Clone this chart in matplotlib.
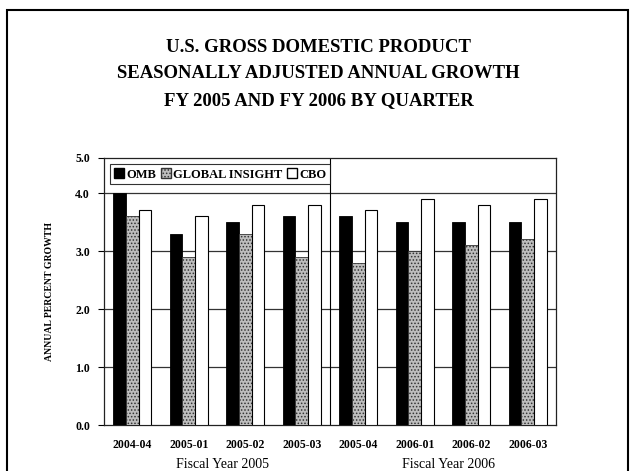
import numpy as np
import matplotlib
matplotlib.use("Agg")
import matplotlib.pyplot as plt
from matplotlib.patches import Rectangle, Patch

categories = ["2004-04", "2005-01", "2005-02", "2005-03",
              "2005-04", "2006-01", "2006-02", "2006-03"]
omb = [4.0, 3.3, 3.5, 3.6, 3.6, 3.5, 3.5, 3.5]
global_insight = [3.6, 2.9, 3.3, 2.9, 2.8, 3.0, 3.1, 3.2]
cbo = [3.7, 3.6, 3.8, 3.8, 3.7, 3.9, 3.8, 3.9]
series_names = ["OMB", "GLOBAL INSIGHT", "CBO"]
yticks = [0.0, 1.0, 2.0, 3.0, 4.0, 5.0]
fiscal_labels = ["Fiscal Year 2005", "Fiscal Year 2006"]
title_lines = ["U.S. GROSS DOMESTIC PRODUCT",
               "SEASONALLY ADJUSTED ANNUAL GROWTH",
               "FY 2005 AND FY 2006 BY QUARTER"]

plt.rcParams['font.family'] = ['Liberation Serif', 'DejaVu Serif']
plt.rcParams['hatch.linewidth'] = 0.7

fig = plt.figure(figsize=(6.31, 4.71), dpi=100)
ax = fig.add_axes([104/631, 46/471, 452/631, (425-158)/471])

# the reference's top interval (4-5) is drawn compressed
K = 35/58.0
def fwd(y):
    y = np.asarray(y, dtype=float)
    return np.where(y <= 4, y, 4 + (y - 4) * K)
def inv(y):
    y = np.asarray(y, dtype=float)
    return np.where(y <= 4, y, 4 + (y - 4) / K)
ax.set_yscale('function', functions=(fwd, inv))

gi_face = '#bdbdbd'
x = np.arange(len(categories))
w = 0.225
ax.bar(x - w, omb, w, color='black', edgecolor='black', lw=0.6, zorder=3)
ax.bar(x, global_insight, w, color=gi_face, edgecolor='#333333', lw=0.6,
       hatch='.....', zorder=3)
ax.bar(x + w, cbo, w, color='white', edgecolor='black', lw=0.8, zorder=3)

ax.set_xlim(-0.5, len(categories) - 0.5)
ax.set_ylim(0, 5.0)
ax.set_yticks(yticks)
ax.set_yticklabels([f"{v:.1f}" for v in yticks], fontsize=8.5, fontweight='bold')
ax.set_xticks(x)
ax.set_xticklabels(categories, fontsize=8.5, fontweight='bold')
ax.tick_params(axis='x', length=0, pad=10)
ax.tick_params(axis='y', direction='out', length=4, width=0.8, pad=6)

for g in [1, 2, 3, 4]:
    ax.axhline(g, color='#333333', lw=0.9, zorder=1)
ax.axvline(3.5, color='black', lw=0.8, zorder=2)

for s in ax.spines.values():
    s.set_linewidth(0.9)
    s.set_color('#222222')

ax.set_ylabel("ANNUAL PERCENT GROWTH", fontsize=7, fontweight='bold',
              labelpad=15)

# fiscal year group labels
ax.text(1.6, -0.125, fiscal_labels[0], transform=ax.get_xaxis_transform(),
        ha='center', va='top', fontsize=10)
ax.text(5.6, -0.125, fiscal_labels[1], transform=ax.get_xaxis_transform(),
        ha='center', va='top', fontsize=10)

handles = [Patch(facecolor='black', edgecolor='black'),
           Patch(facecolor=gi_face, edgecolor='#333333', hatch='.....'),
           Patch(facecolor='white', edgecolor='black')]
leg = ax.legend(handles, series_names, loc='upper left', ncol=3,
                bbox_to_anchor=(0.0, 1.0), frameon=True, fancybox=False,
                handlelength=0.8, handleheight=0.9, handletextpad=0.2,
                columnspacing=0.35, borderpad=0.3, borderaxespad=0.5,
                prop={'weight': 'bold', 'size': 9})
leg.get_frame().set_edgecolor('black')
leg.get_frame().set_linewidth(0.8)

for i, line in enumerate(title_lines):
    fig.text(0.505, (471 - 47 - i * 27) / 471, line, ha='center', va='center',
             fontsize=13.5, fontweight='bold')

fig.patches.append(Rectangle((7/631, -0.02), (628-7)/631, (471-10)/471 + 0.02,
                             transform=fig.transFigure, fill=False,
                             edgecolor='black', lw=1.5))

fig.savefig("out.png", dpi=100)
